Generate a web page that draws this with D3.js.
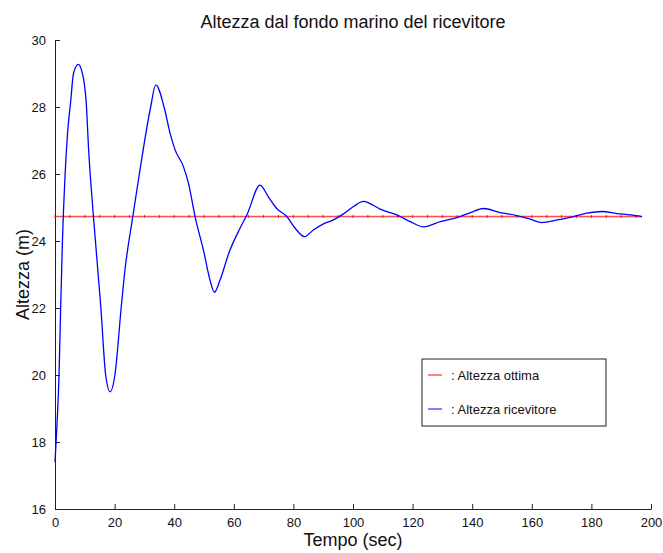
<!DOCTYPE html>
<html>
<head>
<meta charset="utf-8">
<script src="https://cdn.jsdelivr.net/npm/d3@7"></script>
<style>
body { margin: 0; background: #fff; }
svg { font-family: "Liberation Sans", Arial, sans-serif; }
</style>
</head>
<body>
<svg width="663" height="553"></svg>
<script>
// tempo (sec) and altezza ricevitore (m)
var tempo = [0, 0.6, 1.35, 1.9, 2.5, 3.4, 4.2, 5.3, 6.2, 7.8, 9.2, 10.5, 11.3, 12.9, 15.4, 17.0, 18.5,
  20.1, 22.2, 23.3, 26.1, 28.3, 32.1, 33.8, 36.6, 38.6, 40.3, 43.1, 44.8, 47.0, 49.8, 52.0, 53.5,
  55.4, 58.5, 62.1, 64.5, 68.8, 71.6, 74.4, 77.8, 80.6, 83.7, 86.7, 90.1, 93.4, 96.8, 100.2, 103.5,
  106.5, 109.1, 114.7, 119.2, 123.7, 129.3, 134.9, 139.4, 143.8, 149.4, 155.0, 159.5, 163.4, 168.5,
  174.0, 178.5, 183.6, 188.6, 193.1, 197.0];
var altezza = [17.4, 18.4, 20.0, 22.0, 24.0, 26.0, 27.2, 28.2, 29.0, 29.27, 29.0, 28.1, 26.7, 24.73, 22.0, 20.0, 19.5,
  20.0, 22.0, 23.0, 24.73, 26.0, 28.0, 28.66, 28.0, 27.22, 26.72, 26.22, 25.72, 24.73, 23.73, 22.84, 22.47,
  22.84, 23.68, 24.38, 24.8, 25.67, 25.32, 24.97, 24.73, 24.38, 24.13, 24.33, 24.51, 24.63, 24.81, 25.03, 25.18,
  25.08, 24.95, 24.78, 24.58, 24.42, 24.58, 24.70, 24.85, 24.97, 24.85, 24.76, 24.65, 24.55, 24.63,
  24.73, 24.83, 24.88, 24.82, 24.78, 24.73];
var ottimaValue = 24.73;
var ottimaRange = [0, 197];
var xTicks = [0, 20, 40, 60, 80, 100, 120, 140, 160, 180, 200];
var yTicks = [16, 18, 20, 22, 24, 26, 28, 30];
var legendLabels = [": Altezza ottima", ": Altezza ricevitore"];
var legendColors = ["#ff0000", "#0000ff"];

var svg = d3.select("svg");

var x = d3.scaleLinear().domain([0, 200]).range([55, 651]);
var y = d3.scaleLinear().domain([16, 30]).range([509, 40]);

// asse x
var xAxis = svg.append("g")
  .attr("transform", "translate(0," + y(16) + ")")
  .call(d3.axisBottom(x).tickValues(xTicks).tickSizeInner(-5).tickSizeOuter(0).tickPadding(9));
// asse y
var yAxis = svg.append("g")
  .attr("transform", "translate(" + x(0) + ",0)")
  .call(d3.axisLeft(y).tickValues(yTicks).tickSizeInner(-5).tickSizeOuter(0).tickPadding(9));

svg.selectAll(".domain").attr("stroke", "#222").attr("stroke-width", 1);
svg.selectAll(".tick line").attr("stroke", "#222");
svg.selectAll(".tick text").style("font-size", "13px").attr("fill", "#111")
  .style("font-family", "'Liberation Sans', Arial, sans-serif");
xAxis.selectAll(".tick text").attr("dy", "0.71em");

// linea ottima
svg.append("line")
  .attr("x1", x(ottimaRange[0])).attr("x2", x(ottimaRange[1]))
  .attr("y1", y(ottimaValue)).attr("y2", y(ottimaValue))
  .attr("stroke", "#ff0000").attr("stroke-opacity", 0.7).attr("stroke-width", 1.6);
svg.selectAll(".mk")
  .data(d3.range(ottimaRange[0], ottimaRange[1] + 1, 5))
  .enter().append("line")
  .attr("class", "mk")
  .attr("x1", function(d){ return x(d); }).attr("x2", function(d){ return x(d); })
  .attr("y1", y(ottimaValue) - 1.5).attr("y2", y(ottimaValue) + 1.5)
  .attr("stroke", "#e00000").attr("stroke-opacity", 0.8).attr("stroke-width", 1);

// curva ricevitore
var pts = tempo.map(function(t, i){ return [t, altezza[i]]; });
svg.append("path")
  .datum(pts)
  .attr("fill", "none")
  .attr("stroke", "#0000ff")
  .attr("stroke-width", 1.3)
  .attr("d", d3.line()
    .x(function(d){ return x(d[0]); })
    .y(function(d){ return y(d[1]); })
    .curve(d3.curveMonotoneX));

// titolo e etichette
svg.append("text")
  .attr("x", (x(0) + x(200)) / 2).attr("y", 28)
  .attr("text-anchor", "middle")
  .style("font-size", "18px").attr("fill", "#111")
  .text("Altezza dal fondo marino del ricevitore");
svg.append("text")
  .attr("x", (x(0) + x(200)) / 2).attr("y", 546)
  .attr("text-anchor", "middle")
  .style("font-size", "18px").attr("fill", "#111")
  .text("Tempo (sec)");
svg.append("text")
  .attr("transform", "translate(29," + ((y(16) + y(30)) / 2) + ") rotate(-90)")
  .attr("text-anchor", "middle")
  .style("font-size", "18px").attr("fill", "#111")
  .text("Altezza (m)");

// legenda
var leg = svg.append("g");
leg.append("rect")
  .attr("x", 422).attr("y", 359).attr("width", 184).attr("height", 67)
  .attr("fill", "#fff").attr("stroke", "#222").attr("stroke-width", 1);
leg.selectAll(".li")
  .data(legendLabels)
  .enter().append("line")
  .attr("x1", 428).attr("x2", 442)
  .attr("y1", function(d,i){ return 375 + i * 34; })
  .attr("y2", function(d,i){ return 375 + i * 34; })
  .attr("stroke", function(d,i){ return legendColors[i]; })
  .attr("stroke-width", 1);
leg.selectAll(".lt")
  .data(legendLabels)
  .enter().append("text")
  .attr("x", 451)
  .attr("y", function(d,i){ return 380 + i * 34; })
  .style("font-size", "13px").attr("fill", "#111")
  .text(function(d){ return d; });
</script>
</body>
</html>
